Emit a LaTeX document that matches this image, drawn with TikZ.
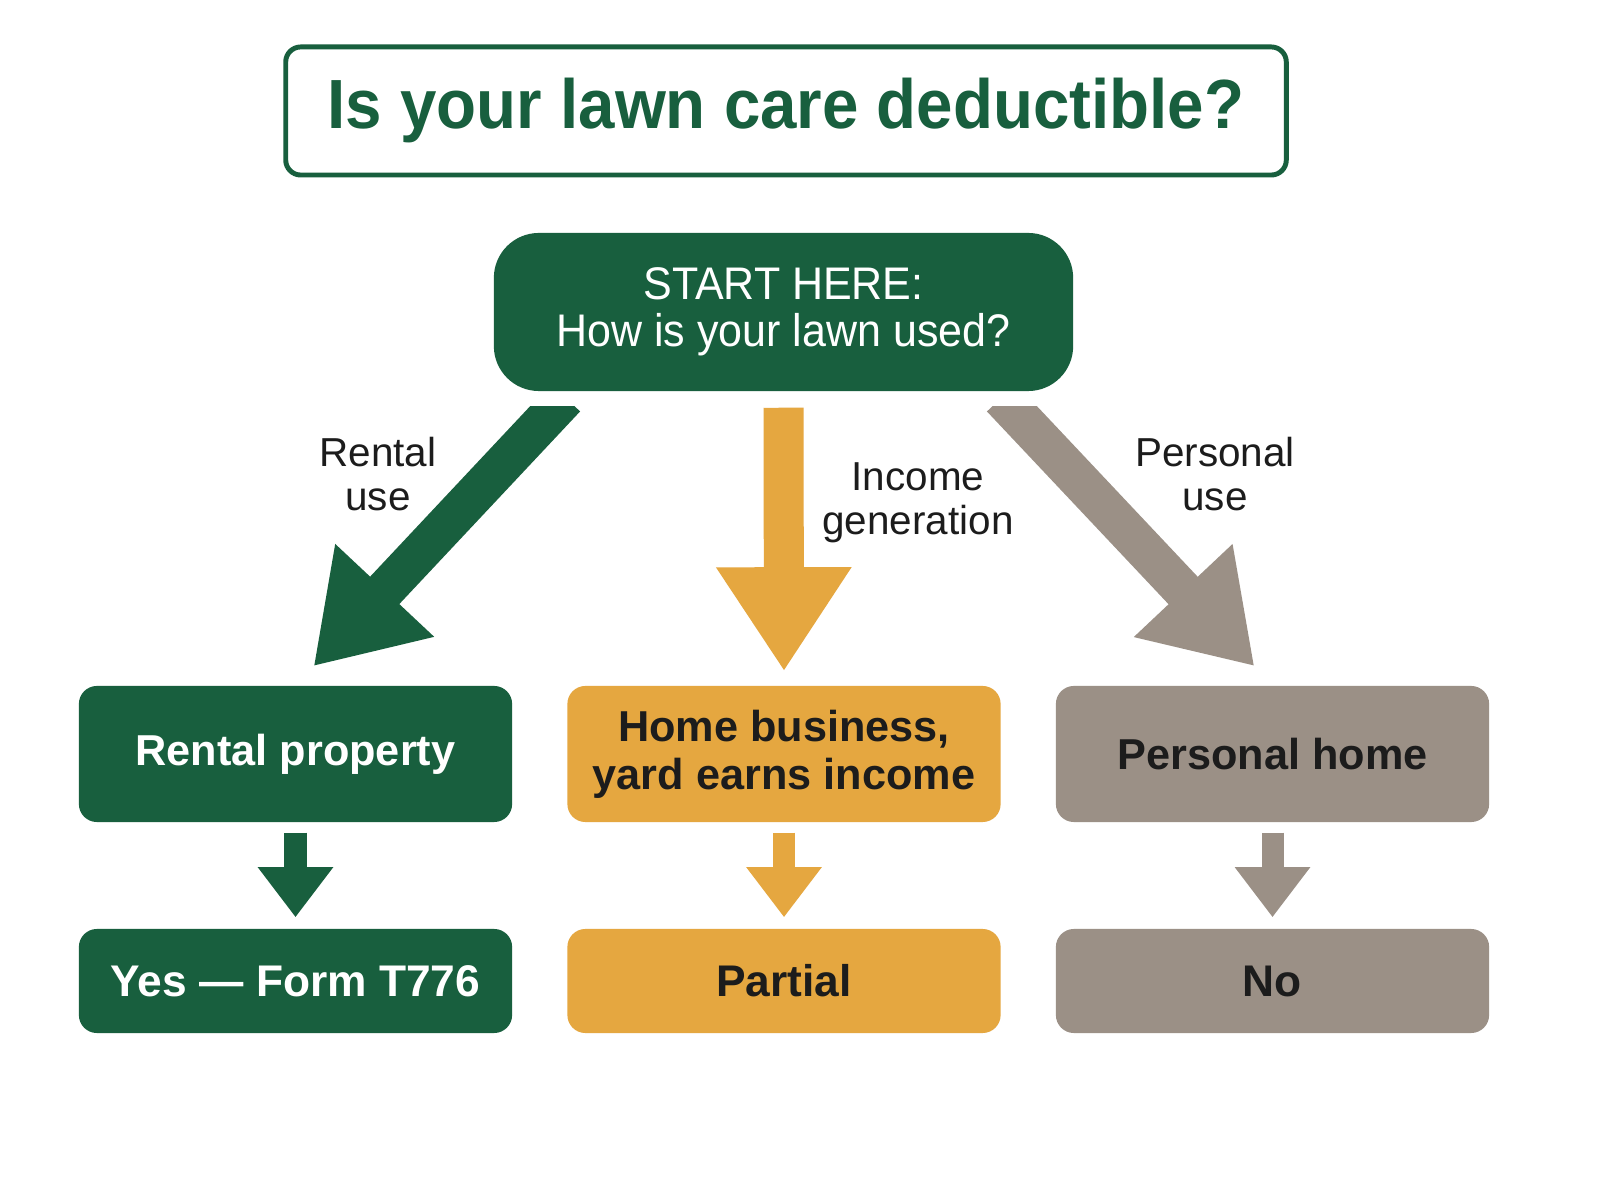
\documentclass[tikz,border=0pt]{standalone}
\usepackage{fontspec}
\setmainfont{Liberation Sans}
\newfontfamily\condfont[FakeStretch=0.94]{Liberation Sans}
\usetikzlibrary{arrows.meta, positioning, calc}
\definecolor{lawngreen}{HTML}{185F3E}
\definecolor{lawngold}{HTML}{E5A740}
\definecolor{lawngray}{HTML}{9B9086}
\definecolor{lawnink}{HTML}{1C1C1C}

\begin{document}
\begin{tikzpicture}[
        x=0.01cm, y=-0.01cm,
        titlebox/.style={
          rectangle, rounded corners=0.15cm,
          fill=white, draw=lawngreen, line width=1.4pt,
          minimum width=10.0cm, minimum height=1.28cm,
          text=lawngreen, font=\condfont\bfseries\fontsize{19.8}{22}\selectfont},
        startbox/.style={
          rectangle, rounded corners=0.45cm,
          fill=lawngreen, align=center, text=white,
          minimum width=5.79cm, minimum height=1.58cm,
          font=\condfont\fontsize{13}{13.4}\selectfont},
        outcome/.style={
          rectangle, rounded corners=0.18cm,
          align=center, inner sep=4pt,
          minimum width=4.33cm, minimum height=1.36cm,
          font=\bfseries\fontsize{12.3}{13.6}\selectfont},
        answer/.style={
          outcome, minimum height=1.04cm,
          font=\bfseries\fontsize{12.6}{14}\selectfont},
        greenfill/.style={fill=lawngreen, text=white},
        goldfill/.style={fill=lawngold, text=lawnink},
        grayfill/.style={fill=lawngray, text=lawnink},
        pathlabel/.style={
          align=center, text=lawnink,
          font=\fontsize{11.5}{12.5}\selectfont},
        bigarrow/.style={
          line width=0.4cm, -{Triangle[length=1.04cm, width=1.28cm]}},
        smallarrow/.style={
          line width=0.22cm, -{Triangle[length=0.5cm, width=0.72cm]}}
      ]
        \fill[white] (0,0) rectangle (1600,1195);

        \node[titlebox] (title) at (786, 111)
          {Is your lawn care deductible?};
        \node[startbox] (start) at (783.5, 312)
          {START HERE:\\How is your lawn used?};

        \node[outcome, greenfill] (rental) at (295.5, 754)
          {Rental property};
        \node[outcome, goldfill] (business) at (784, 754)
          {Home business,\\yard earns income};
        \node[outcome, grayfill] (personal) at (1272.5, 754)
          {Personal home};

        \node[answer, greenfill] (yes) at (295.5, 981)
          {Yes --- Form T776};
        \node[answer, goldfill] (partial) at (784, 981)
          {Partial};
        \node[answer, grayfill] (no) at (1272.5, 981)
          {No};

        % shafts cut flat just under the start box
        \begin{scope}
          \clip (0,407) rectangle (1600,1195);
          \draw[bigarrow, lawngreen] ($(start.south)+(-218,6)$) -- ($(rental.north)+(18,-19)$);
          \draw[bigarrow, lawngold] ($(start.south)+(0,16)$) -- ($(business.north)+(0,-14)$);
          \draw[bigarrow, lawngray] ($(start.south)+(218,6)$) -- ($(personal.north)+(-18,-19)$);
        \end{scope}

        \node[pathlabel] (lblrental) at (378, 474) {Rental\\use};
        \node[pathlabel] (lblincome) at (918, 503) {Income\\generation};
        \node[pathlabel] (lblpersonal) at (1215, 474) {Personal\\use};

        \draw[smallarrow, lawngreen] ($(rental.south)+(0,10)$) -- ($(yes.north)+(0,-11)$);
        \draw[smallarrow, lawngold] ($(business.south)+(0,10)$) -- ($(partial.north)+(0,-11)$);
        \draw[smallarrow, lawngray] ($(personal.south)+(0,10)$) -- ($(no.north)+(0,-11)$);
      \end{tikzpicture}
\end{document}
